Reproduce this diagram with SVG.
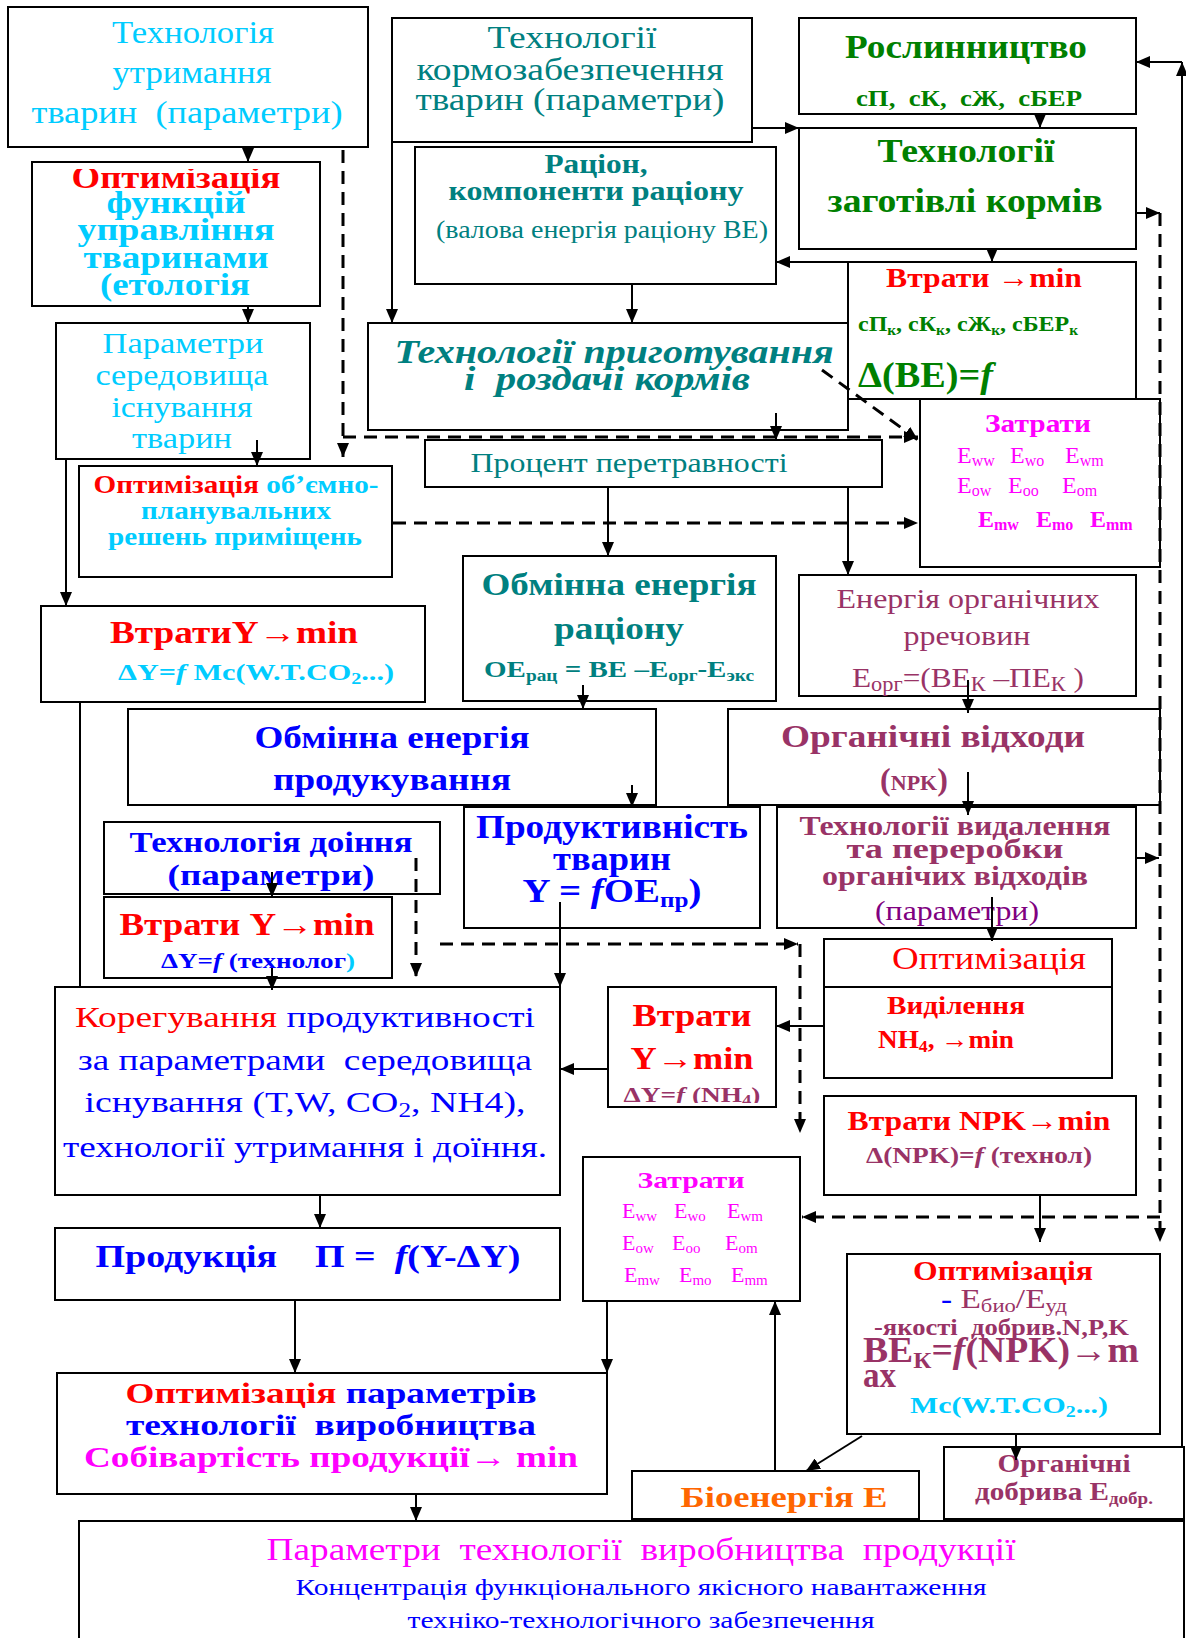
<svg xmlns="http://www.w3.org/2000/svg" width="1186" height="1638" viewBox="0 0 1186 1638">
<defs>
<style>
.b{fill:#fff;stroke:#000;stroke-width:2}
.c{fill:none;stroke:#000;stroke-width:2}
.d{fill:none;stroke:#000;stroke-width:3;stroke-dasharray:13 8}
text{font-family:"Liberation Serif","Times New Roman",serif}
.m{text-anchor:middle}
.bd{font-weight:bold}
.it{font-style:italic}
.cy{fill:#00CCFF}.tl{fill:#008080}.gr{fill:#008000}.rd{fill:#FF0000}.mg{fill:#FF00FF}.bl{fill:#0000FF}.mr{fill:#993366}.pu{fill:#800080}.or{fill:#FF6600}
</style>
<marker id="ah" markerUnits="userSpaceOnUse" markerWidth="14" markerHeight="12" viewBox="0 0 14 12" refX="14" refY="6" orient="auto"><path d="M0,0 L14,6 L0,12 z" fill="#000"/></marker>
<clipPath id="cpFunc"><rect x="32" y="169" width="288" height="137"/></clipPath>
<clipPath id="cpV3"><rect x="608" y="987" width="168" height="116"/></clipPath>
<clipPath id="cpVyd"><rect x="777" y="807" width="359" height="121"/></clipPath>
</defs>
<rect width="1186" height="1638" fill="#fff"/>

<g id="n-utrymannia"><rect class="b" x="8" y="7" width="360" height="140"/>
<text class="m cy" x="193" y="43" font-size="31" textLength="162" lengthAdjust="spacingAndGlyphs">Технологія</text>
<text class="m cy" x="192" y="83" font-size="31" textLength="159" lengthAdjust="spacingAndGlyphs">утримання</text>
<text class="m cy" x="187" y="123" font-size="31" textLength="311" lengthAdjust="spacingAndGlyphs">тварин &#160;(параметри)</text></g>

<g id="n-kormo"><rect class="b" x="392" y="18" width="360" height="124"/>
<text class="m tl" x="572" y="48" font-size="32" textLength="169" lengthAdjust="spacingAndGlyphs">Технології</text>
<text class="m tl" x="570" y="80" font-size="32" textLength="307" lengthAdjust="spacingAndGlyphs">кормозабезпечення</text>
<text class="m tl" x="570" y="110" font-size="32" textLength="309" lengthAdjust="spacingAndGlyphs">тварин (параметри)</text></g>

<g id="n-roslyn"><rect class="b" x="799" y="18" width="337" height="96"/>
<text class="m gr bd" x="966" y="58" font-size="34" textLength="242" lengthAdjust="spacingAndGlyphs">Рослинництво</text>
<text class="m gr bd" x="969" y="106" font-size="24" textLength="226" lengthAdjust="spacingAndGlyphs">сП, &#160;сК, &#160;сЖ, &#160;сБЕР</text></g>

<g id="n-tech-zag"><rect class="b" x="799" y="128" width="337" height="121"/>
<text class="m gr bd" x="966" y="162" font-size="34" textLength="177" lengthAdjust="spacingAndGlyphs">Технології</text>
<text class="m gr bd" x="965" y="212" font-size="34" textLength="275" lengthAdjust="spacingAndGlyphs">заготівлі кормів</text></g>

<g id="n-ration"><rect class="b" x="415" y="147" width="361" height="137"/>
<text class="m tl bd" x="596" y="173" font-size="27" textLength="103" lengthAdjust="spacingAndGlyphs">Раціон,</text>
<text class="m tl bd" x="596" y="200" font-size="27" textLength="295" lengthAdjust="spacingAndGlyphs">компоненти раціону</text>
<text class="m tl" x="602" y="238" font-size="25" textLength="332" lengthAdjust="spacingAndGlyphs">(валова енергія раціону ВЕ)</text></g>

<g id="n-vtraty-be"><rect class="b" x="848" y="262" width="288" height="137"/>
<text class="m rd bd" x="984" y="287" font-size="28" textLength="196" lengthAdjust="spacingAndGlyphs">Втрати →min</text>
<text class="gr bd" x="858" y="331" font-size="22" textLength="220" lengthAdjust="spacingAndGlyphs">сП<tspan font-size="14" dy="4">к</tspan><tspan dy="-4">, сК</tspan><tspan font-size="14" dy="4">к</tspan><tspan dy="-4">, сЖ</tspan><tspan font-size="14" dy="4">к</tspan><tspan dy="-4">, сБЕР</tspan><tspan font-size="14" dy="4">к</tspan></text>
<text class="gr bd" x="858" y="387" font-size="36" textLength="135" lengthAdjust="spacingAndGlyphs">Δ(ВЕ)=<tspan class="it">f</tspan></text></g>

<g id="n-optim-func"><rect class="b" x="32" y="162" width="288" height="144"/>
<g clip-path="url(#cpFunc)">
<text class="m rd bd" x="176" y="188" font-size="31" textLength="209" lengthAdjust="spacingAndGlyphs">Оптимізація</text>
<text class="m cy bd" x="176" y="213" font-size="31" textLength="139" lengthAdjust="spacingAndGlyphs">функцій</text>
<text class="m cy bd" x="176" y="240" font-size="31" textLength="197" lengthAdjust="spacingAndGlyphs">управління</text>
<text class="m cy bd" x="176" y="268" font-size="31" textLength="185" lengthAdjust="spacingAndGlyphs">тваринами</text>
<text class="m cy bd" x="175" y="295" font-size="31" textLength="150" lengthAdjust="spacingAndGlyphs">(етологія</text></g></g>

<g id="n-param-sered"><rect class="b" x="56" y="323" width="254" height="136"/>
<text class="m cy" x="183" y="353" font-size="30" textLength="161" lengthAdjust="spacingAndGlyphs">Параметри</text>
<text class="m cy" x="182" y="385" font-size="30" textLength="173" lengthAdjust="spacingAndGlyphs">середовища</text>
<text class="m cy" x="182" y="417" font-size="30" textLength="141" lengthAdjust="spacingAndGlyphs">існування</text>
<text class="m cy" x="182" y="448" font-size="30" textLength="100" lengthAdjust="spacingAndGlyphs">тварин</text></g>

<g id="n-tech-pryhot"><rect class="b" x="368" y="323" width="480" height="107"/>
<text class="m tl bd it" x="614" y="363" font-size="34" textLength="439" lengthAdjust="spacingAndGlyphs">Технології приготування</text>
<text class="m tl bd it" x="607" y="390" font-size="34" textLength="286" lengthAdjust="spacingAndGlyphs">і &#160;роздачі кормів</text></g>

<g id="n-procent"><rect class="b" x="425" y="440" width="457" height="47"/>
<text class="m tl" x="629" y="472" font-size="28" textLength="317" lengthAdjust="spacingAndGlyphs">Процент перетравності</text></g>

<g id="n-zatraty1"><rect class="b" x="920" y="399" width="240" height="168"/>
<text class="m mg bd" x="1038" y="432" font-size="26" textLength="106" lengthAdjust="spacingAndGlyphs">Затрати</text>
<g class="mg" font-size="24">
<text x="957" y="463">E<tspan font-size="16" dy="3">ww</tspan></text>
<text x="1010" y="463">E<tspan font-size="16" dy="3">wo</tspan></text>
<text x="1065" y="463">E<tspan font-size="16" dy="3">wm</tspan></text>
<text x="957" y="493">E<tspan font-size="16" dy="3">ow</tspan></text>
<text x="1008" y="493">E<tspan font-size="16" dy="3">oo</tspan></text>
<text x="1062" y="493">E<tspan font-size="16" dy="3">om</tspan></text>
<text class="bd" x="978" y="527">E<tspan font-size="16" dy="3">mw</tspan></text>
<text class="bd" x="1036" y="527">E<tspan font-size="16" dy="3">mo</tspan></text>
<text class="bd" x="1090" y="527">E<tspan font-size="16" dy="3">mm</tspan></text></g></g>

<g id="n-optim-obiem"><rect class="b" x="79" y="466" width="313" height="111"/>
<text class="m bd" x="236" y="493" font-size="25" textLength="285" lengthAdjust="spacingAndGlyphs"><tspan class="rd">Оптимізація</tspan><tspan class="cy"> об’ємно-</tspan></text>
<text class="m cy bd" x="236" y="519" font-size="25" textLength="190" lengthAdjust="spacingAndGlyphs">планувальних</text>
<text class="m cy bd" x="235" y="545" font-size="25" textLength="254" lengthAdjust="spacingAndGlyphs">решень приміщень</text></g>

<g id="n-vtratyY1"><rect class="b" x="41" y="606" width="384" height="96"/>
<text class="m rd bd" x="234" y="643" font-size="32" textLength="248" lengthAdjust="spacingAndGlyphs">ВтратиY→min</text>
<text class="m cy bd" x="256" y="680" font-size="24" textLength="276" lengthAdjust="spacingAndGlyphs">ΔY=<tspan class="it">f</tspan> Mc(W.T.CO<tspan font-size="16" dy="4">2</tspan><tspan dy="-4">...)</tspan></text></g>

<g id="n-oe-ration"><rect class="b" x="463" y="556" width="313" height="145"/>
<text class="m tl bd" x="619" y="595" font-size="32" textLength="275" lengthAdjust="spacingAndGlyphs">Обмінна енергія</text>
<text class="m tl bd" x="619" y="639" font-size="32" textLength="130" lengthAdjust="spacingAndGlyphs">раціону</text>
<text class="m tl bd" x="619" y="677" font-size="24" textLength="270" lengthAdjust="spacingAndGlyphs">ОЕ<tspan font-size="16" dy="4">рац</tspan><tspan dy="-4"> = ВЕ –Е</tspan><tspan font-size="16" dy="4">орг</tspan><tspan dy="-4">-Е</tspan><tspan font-size="16" dy="4">экс</tspan></text></g>

<g id="n-energy-org"><rect class="b" x="799" y="575" width="337" height="121"/>
<text class="m mr" x="968" y="608" font-size="28" textLength="263" lengthAdjust="spacingAndGlyphs">Енергія органічних</text>
<text class="m mr" x="967" y="645" font-size="28" textLength="127" lengthAdjust="spacingAndGlyphs">рречовин</text>
<text class="m mr" x="968" y="687" font-size="28" textLength="232" lengthAdjust="spacingAndGlyphs">Е<tspan font-size="20" dy="4">орг</tspan><tspan dy="-4">=(ВЕ</tspan><tspan font-size="20" dy="4">К</tspan><tspan dy="-4"> –ПЕ</tspan><tspan font-size="20" dy="4">К</tspan><tspan dy="-4"> )</tspan></text></g>

<g id="n-oe-prod"><rect class="b" x="128" y="709" width="528" height="96"/>
<text class="m bl bd" x="392" y="748" font-size="32" textLength="275" lengthAdjust="spacingAndGlyphs">Обмінна енергія</text>
<text class="m bl bd" x="392" y="790" font-size="32" textLength="238" lengthAdjust="spacingAndGlyphs">продукування</text></g>

<g id="n-org-waste"><rect class="b" x="728" y="709" width="432" height="96"/>
<text class="m mr bd" x="933" y="747" font-size="32" textLength="304" lengthAdjust="spacingAndGlyphs">Органічні відходи</text>
<text class="m mr bd" x="914" y="790" font-size="32">(<tspan font-size="22">NPK</tspan>)</text></g>

<g id="n-productivity"><rect class="b" x="464" y="807" width="296" height="121"/>
<text class="m bl bd" x="612" y="838" font-size="34" textLength="272" lengthAdjust="spacingAndGlyphs">Продуктивність</text>
<text class="m bl bd" x="612" y="870" font-size="34" textLength="118" lengthAdjust="spacingAndGlyphs">тварин</text>
<text class="m bl bd" x="612" y="902" font-size="34" textLength="179" lengthAdjust="spacingAndGlyphs">Y = <tspan class="it">f</tspan>OE<tspan font-size="22" dy="5">пр</tspan><tspan dy="-5">)</tspan></text></g>

<g id="n-tech-vydal"><rect class="b" x="777" y="807" width="359" height="121"/>
<g clip-path="url(#cpVyd)">
<text class="m mr bd" x="955" y="835" font-size="28" textLength="311" lengthAdjust="spacingAndGlyphs">Технології видалення</text>
<text class="m mr bd" x="955" y="858" font-size="28" textLength="217" lengthAdjust="spacingAndGlyphs">та переробки</text>
<text class="m mr bd" x="955" y="885" font-size="28" textLength="266" lengthAdjust="spacingAndGlyphs">органічих відходів</text>
<text class="m pu" x="957" y="920" font-size="28" textLength="164" lengthAdjust="spacingAndGlyphs">(параметри)</text></g></g>

<g id="n-tech-doin"><rect class="b" x="104" y="822" width="336" height="72"/>
<text class="m bl bd" x="271" y="852" font-size="30" textLength="283" lengthAdjust="spacingAndGlyphs">Технологія доіння</text>
<text class="m bl bd" x="271" y="885" font-size="30" textLength="207" lengthAdjust="spacingAndGlyphs">(параметри)</text></g>

<g id="n-vtraty2"><rect class="b" x="104" y="897" width="288" height="81"/>
<text class="m rd bd" x="247" y="935" font-size="32" textLength="255" lengthAdjust="spacingAndGlyphs">Втрати Y→min</text>
<text class="m bl bd" x="258" y="968" font-size="22" textLength="194" lengthAdjust="spacingAndGlyphs">ΔY=<tspan class="it">f</tspan> (технолог<tspan class="cy">)</tspan></text></g>

<g id="n-optim-nh4"><rect class="b" x="824" y="939" width="288" height="139"/>
<line class="c" x1="824" y1="987" x2="1112" y2="987"/>
<text class="m rd" x="989" y="969" font-size="31" textLength="194" lengthAdjust="spacingAndGlyphs">Оптимізація</text>
<text class="rd bd" x="887" y="1014" font-size="26" textLength="138" lengthAdjust="spacingAndGlyphs">Виділення</text>
<text class="rd bd" x="878" y="1048" font-size="26" textLength="136" lengthAdjust="spacingAndGlyphs">NH<tspan font-size="17" dy="4">4</tspan><tspan dy="-4">, →min</tspan></text></g>

<g id="n-koreg"><rect class="b" x="55" y="987" width="505" height="208"/>
<text class="m" x="305" y="1027" font-size="30" textLength="460" lengthAdjust="spacingAndGlyphs"><tspan class="rd">Корегування</tspan><tspan class="bl"> продуктивності</tspan></text>
<text class="m bl" x="305" y="1070" font-size="30" textLength="454" lengthAdjust="spacingAndGlyphs">за параметрами &#160;середовища</text>
<text class="m bl" x="305" y="1112" font-size="30" textLength="441" lengthAdjust="spacingAndGlyphs">існування (T,W, CO<tspan font-size="20" dy="5">2</tspan><tspan dy="-5">, NH4),</tspan></text>
<text class="m bl" x="305" y="1157" font-size="30" textLength="484" lengthAdjust="spacingAndGlyphs">технології утримання і доїння.</text></g>

<g id="n-vtraty3"><rect class="b" x="608" y="987" width="168" height="120"/>
<text class="m rd bd" x="692" y="1026" font-size="32" textLength="119" lengthAdjust="spacingAndGlyphs">Втрати</text>
<text class="m rd bd" x="692" y="1069" font-size="32" textLength="123" lengthAdjust="spacingAndGlyphs">Y→min</text>
<g clip-path="url(#cpV3)"><text class="m mr bd" x="692" y="1102" font-size="22" textLength="137" lengthAdjust="spacingAndGlyphs">ΔY=<tspan class="it">f</tspan> (NH<tspan font-size="15" dy="3">4</tspan><tspan dy="-3">)</tspan></text></g></g>

<g id="n-vtraty-npk"><rect class="b" x="824" y="1096" width="312" height="99"/>
<text class="m rd bd" x="979" y="1130" font-size="28" textLength="263" lengthAdjust="spacingAndGlyphs">Втрати NPK→min</text>
<text class="m mr bd" x="979" y="1163" font-size="24" textLength="226" lengthAdjust="spacingAndGlyphs">Δ(NPK)=<tspan class="it">f</tspan> (технол)</text></g>

<g id="n-zatraty2"><rect class="b" x="583" y="1157" width="217" height="144"/>
<text class="m mg bd" x="691" y="1188" font-size="24" textLength="107" lengthAdjust="spacingAndGlyphs">Затрати</text>
<g class="mg" font-size="22">
<text x="622" y="1218">E<tspan font-size="15" dy="3">ww</tspan></text>
<text x="674" y="1218">E<tspan font-size="15" dy="3">wo</tspan></text>
<text x="727" y="1218">E<tspan font-size="15" dy="3">wm</tspan></text>
<text x="622" y="1250">E<tspan font-size="15" dy="3">ow</tspan></text>
<text x="672" y="1250">E<tspan font-size="15" dy="3">oo</tspan></text>
<text x="725" y="1250">E<tspan font-size="15" dy="3">om</tspan></text>
<text x="624" y="1282">E<tspan font-size="15" dy="3">mw</tspan></text>
<text x="679" y="1282">E<tspan font-size="15" dy="3">mo</tspan></text>
<text x="731" y="1282">E<tspan font-size="15" dy="3">mm</tspan></text></g></g>

<g id="n-produkts"><rect class="b" x="55" y="1228" width="505" height="72"/>
<text class="m bl bd" x="308" y="1267" font-size="32" textLength="425" lengthAdjust="spacingAndGlyphs">Продукція &#160; &#160;П = &#160;<tspan class="it">f</tspan>(Y-ΔY)</text></g>

<g id="n-optim3"><rect class="b" x="847" y="1254" width="313" height="180"/>
<text class="m rd bd" x="1003" y="1280" font-size="28" textLength="180" lengthAdjust="spacingAndGlyphs">Оптимізація</text>
<text class="mr" x="941" y="1308" font-size="28" textLength="126" lengthAdjust="spacingAndGlyphs"><tspan class="bl bd">- </tspan>Е<tspan font-size="19" dy="4">био</tspan><tspan dy="-4">/Е</tspan><tspan font-size="19" dy="4">уд</tspan></text>
<text class="mr bd" x="874" y="1335" font-size="24" textLength="255" lengthAdjust="spacingAndGlyphs">-якості &#160;добрив.N,P,K</text>
<text class="mr bd" x="863" y="1362" font-size="36" textLength="276" lengthAdjust="spacingAndGlyphs">ВЕ<tspan font-size="24" dy="6">К</tspan><tspan dy="-6">=</tspan><tspan class="it">f</tspan>(NPK)→m</text>
<text class="mr bd" x="863" y="1387" font-size="36" textLength="33" lengthAdjust="spacingAndGlyphs">ax</text>
<text class="m cy bd" x="1009" y="1413" font-size="24" textLength="198" lengthAdjust="spacingAndGlyphs">Mc(W.T.CO<tspan font-size="16" dy="4">2</tspan><tspan dy="-4">...)</tspan></text></g>

<g id="n-optim-param"><rect class="b" x="57" y="1373" width="550" height="121"/>
<text class="m bd" x="331" y="1403" font-size="30" textLength="411" lengthAdjust="spacingAndGlyphs"><tspan class="rd">Оптимізація</tspan><tspan class="bl"> параметрів</tspan></text>
<text class="m bl bd" x="331" y="1435" font-size="30" textLength="410" lengthAdjust="spacingAndGlyphs">технології &#160;виробництва</text>
<text class="m mg bd" x="331" y="1467" font-size="30" textLength="494" lengthAdjust="spacingAndGlyphs">Собівартість продукції→ min</text></g>

<g id="n-bio"><rect class="b" x="632" y="1471" width="287" height="48"/>
<text class="m or bd" x="784" y="1507" font-size="30" textLength="207" lengthAdjust="spacingAndGlyphs">Біоенергія Е</text></g>

<g id="n-org-fert"><rect class="b" x="944" y="1447" width="240" height="72"/>
<text class="m mr bd" x="1064" y="1472" font-size="26" textLength="133" lengthAdjust="spacingAndGlyphs">Органічні</text>
<text class="m mr bd" x="1064" y="1500" font-size="26" textLength="178" lengthAdjust="spacingAndGlyphs">добрива Е<tspan font-size="17" dy="4">добр.</tspan></text></g>

<g id="n-final"><rect class="b" x="79" y="1521" width="1105" height="130"/>
<text class="m mg" x="641" y="1560" font-size="32" textLength="749" lengthAdjust="spacingAndGlyphs">Параметри &#160;технології &#160;виробництва &#160;продукції</text>
<text class="m bl" x="641" y="1595" font-size="24" textLength="691" lengthAdjust="spacingAndGlyphs">Концентрація функціонального якісного навантаження</text>
<text class="m bl" x="641" y="1628" font-size="24" textLength="467" lengthAdjust="spacingAndGlyphs">техніко-технологічного забезпечення</text></g>

<g id="connectors">
<g class="c" marker-end="url(#ah)">
<path d="M248,147 V162"/>
<path d="M248,306 V323"/>
<path d="M392,142 V323"/>
<path d="M752,128 H799"/>
<path d="M1040,114 V128"/>
<path d="M992,249 V262"/>
<path d="M848,262 H776"/>
<path d="M632,284 V323"/>
<path d="M257,440 V466"/>
<path d="M66,459 V606"/>
<path d="M776,413 V440"/>
<path d="M608,487 V556"/>
<path d="M848,487 V575"/>
<path d="M968,680 V713"/>
<path d="M583,685 V709"/>
<path d="M632,785 V807"/>
<path d="M968,772 V815"/>
<path d="M992,897 V941"/>
<path d="M272,872 V897"/>
<path d="M272,968 V990"/>
<path d="M560,902 V987"/>
<path d="M824,1026 H776"/>
<path d="M608,1069 H560"/>
<path d="M320,1195 V1228"/>
<path d="M295,1300 V1373"/>
<path d="M607,1301 V1373"/>
<path d="M416,1494 V1521"/>
<path d="M775,1471 V1301"/>
<path d="M862,1436 L806,1471"/>
<path d="M1016,1434 V1460"/>
<path d="M1040,1195 V1242"/>
<path d="M1136,858 H1159"/>
<path d="M1136,213 H1160"/>
<path d="M1182,1447 V62"/>
<path d="M1182,62 H1136"/>
</g>
<path class="c" d="M80,702 V987"/>
<g class="d" marker-end="url(#ah)">
<path d="M343,150 V457"/>
<path d="M343,437 H918"/>
<path d="M822,370 L918,440"/>
<path d="M393,523 H918"/>
<path d="M1160,213 V1242"/>
<path d="M1160,1217 H802"/>
<path d="M416,858 V977"/>
<path d="M440,944 H798"/>
<path d="M800,944 V1133"/>
</g>
</g>
</svg>
